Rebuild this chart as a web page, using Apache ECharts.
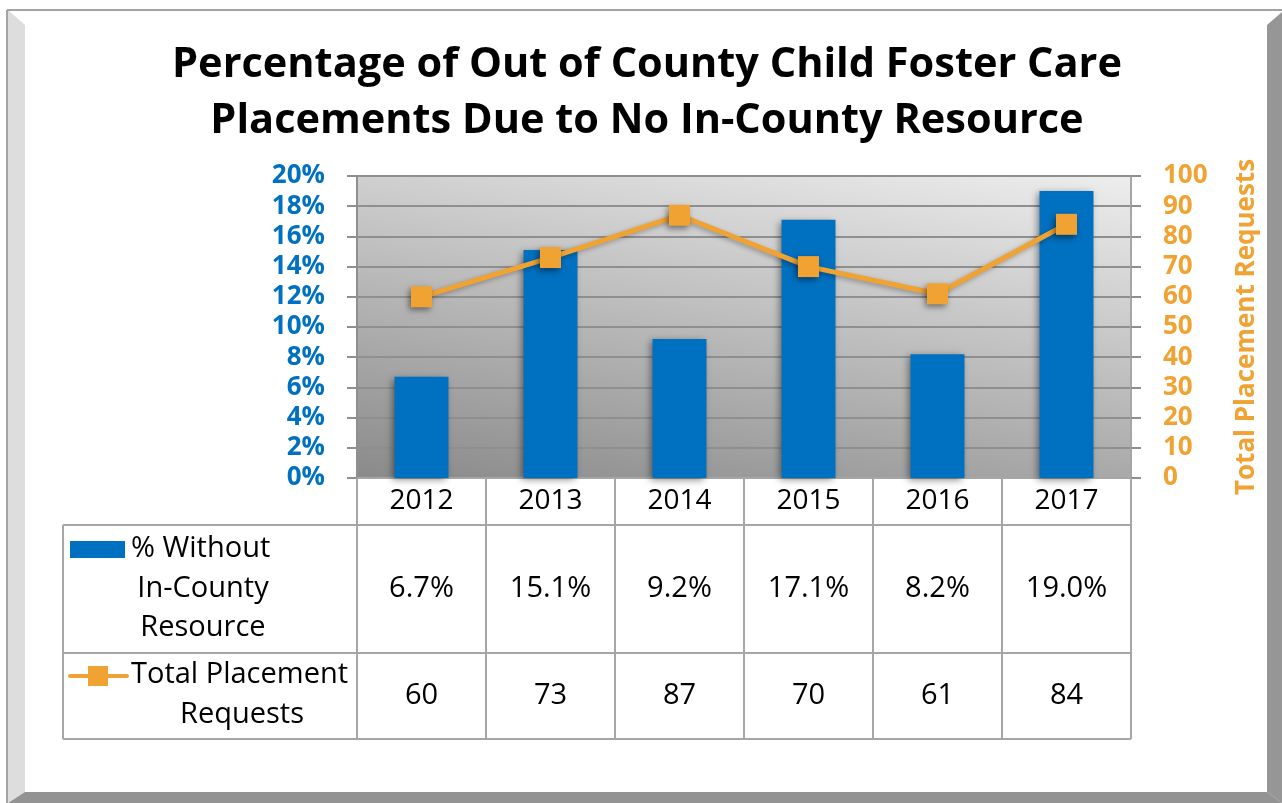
<!DOCTYPE html>
<html>
<head>
<meta charset="utf-8">
<title>Out of County Child Foster Care Placements</title>
<script src="https://cdn.jsdelivr.net/npm/echarts@6/dist/echarts.min.js"></script>
<style>
  html, body { margin: 0; padding: 0; background: #ffffff; }
  #chart { width: 1282px; height: 803px; }
</style>
</head>
<body>
<div id="chart"></div>
<script>
// Placement years shown along the category axis and in the data table
const years = ['2012', '2013', '2014', '2015', '2016', '2017'];
// Share of placements made out of county because no in-county resource existed (%)
const pctWithout = [6.7, 15.1, 9.2, 17.1, 8.2, 19.0];
// Total placement requests per year
const totalRequests = [60, 73, 87, 70, 61, 84];

const barName = '% Without In-County Resource';
const lineName = 'Total Placement Requests';
const titleLines = ['Percentage of Out of County Child Foster Care', 'Placements Due to No In-County Resource'];

const FONT = '"Open Sans", Lato, sans-serif';
const BLUE = '#0070C0';
const ORANGE = '#F0A232';
const GRID_LINE = '#8f8f8f';
const TABLE_LINE = '#a6a6a6';
const TABLE_FONT_SIZE = 29;

const chart = echarts.init(document.getElementById('chart'), null, { renderer: 'canvas' });

const gridBox = { left: 357, top: 176, right: 1131, bottom: 478 };

chart.setOption({
  backgroundColor: '#ffffff',
  animation: false,
  title: {
    text: titleLines.join('\n'),
    left: 642,
    top: 32,
    textAlign: 'center',
    textStyle: { fontFamily: FONT, fontWeight: 'bold', fontSize: 41.5, lineHeight: 56, color: '#000000' }
  },
  grid: {
    left: gridBox.left,
    top: gridBox.top,
    right: 1282 - gridBox.right,
    bottom: 803 - gridBox.bottom,
    show: true,
    borderWidth: 0,
    backgroundColor: {
      type: 'linear',
      global: true,
      x: gridBox.left, y: gridBox.bottom,
      x2: gridBox.left + 74, y2: gridBox.bottom - 425,
      colorStops: [{ offset: 0, color: '#8a8a8a' }, { offset: 1, color: '#eeeeee' }]
    }
  },
  xAxis: {
    type: 'category',
    data: years,
    boundaryGap: true,
    axisLine: { show: true, lineStyle: { color: TABLE_LINE, width: 2 } },
    axisTick: { show: true, inside: false, length: 47, lineStyle: { color: TABLE_LINE, width: 2 } },
    axisLabel: { fontFamily: FONT, fontSize: 28, color: '#000000', margin: 23, verticalAlign: 'middle' },
    splitLine: { show: false }
  },
  yAxis: [
    {
      type: 'value',
      min: 0, max: 20, interval: 2,
      axisLine: { show: true, lineStyle: { color: GRID_LINE, width: 2 } },
      axisTick: { show: true, length: 10, lineStyle: { color: GRID_LINE, width: 2 } },
      axisLabel: { formatter: '{value}%', fontFamily: FONT, fontWeight: 'bold', fontSize: 26, color: BLUE, margin: 32 },
      splitLine: { show: true, lineStyle: { color: GRID_LINE, width: 2 } }
    },
    {
      type: 'value',
      min: 0, max: 100, interval: 10,
      name: lineName,
      nameLocation: 'middle',
      nameRotate: 90,
      nameGap: 103,
      nameTextStyle: { fontFamily: FONT, fontWeight: 'bold', fontSize: 26, color: ORANGE },
      axisLine: { show: true, lineStyle: { color: TABLE_LINE, width: 2 } },
      axisTick: { show: true, length: 10, lineStyle: { color: GRID_LINE, width: 2 } },
      axisLabel: { fontFamily: FONT, fontWeight: 'bold', fontSize: 26, color: ORANGE, margin: 32 },
      splitLine: { show: false }
    }
  ],
  series: [
    {
      name: barName,
      type: 'bar',
      yAxisIndex: 0,
      data: pctWithout,
      barWidth: 54,
      itemStyle: {
        color: BLUE,
        shadowColor: 'rgba(0,0,0,0.45)', shadowBlur: 7, shadowOffsetX: -3, shadowOffsetY: 2
      },
      z: 2
    },
    {
      name: lineName,
      type: 'line',
      yAxisIndex: 1,
      data: totalRequests,
      symbol: 'rect',
      symbolSize: 21,
      lineStyle: { color: ORANGE, width: 5, shadowColor: 'rgba(0,0,0,0.3)', shadowBlur: 5, shadowOffsetX: -2, shadowOffsetY: 2 },
      itemStyle: { color: ORANGE, shadowColor: 'rgba(0,0,0,0.45)', shadowBlur: 6, shadowOffsetX: -2, shadowOffsetY: 3 },
      z: 3
    }
  ]
});

// Data table under the plot: columns follow the category axis positions
function buildTable() {
  const c0 = chart.convertToPixel({ xAxisIndex: 0 }, 0);
  const c1 = chart.convertToPixel({ xAxisIndex: 0 }, 1);
  const band = c1 - c0;
  const firstEdge = c0 - band / 2;
  const lastEdge = firstEdge + band * years.length;
  const tableLeft = 63;
  const rowTop = 525, rowMid = 653, rowBottom = 739;
  const els = [];
  const line = (x1, y1, x2, y2) => ({
    type: 'line', silent: true, z: 10,
    shape: { x1, y1, x2, y2 },
    style: { stroke: TABLE_LINE, lineWidth: 2 }
  });
  const text = (str, x, y, align) => ({
    type: 'text', silent: true, z: 11, x, y,
    style: { text: str, fill: '#000000', font: TABLE_FONT_SIZE + 'px ' + FONT, align: align || 'center', verticalAlign: 'middle' }
  });

  [rowTop, rowMid, rowBottom].forEach(y => els.push(line(tableLeft, y, lastEdge, y)));
  els.push(line(tableLeft, rowTop, tableLeft, rowBottom));
  for (let i = 0; i <= years.length; i++) {
    const x = firstEdge + band * i;
    els.push(line(x, rowTop, x, rowBottom));
  }

  // Row headers with series keys
  els.push({ type: 'rect', silent: true, z: 11, shape: { x: 70, y: 541, width: 55, height: 17 }, style: { fill: BLUE } });
  els.push(text('% Without', 131, 549, 'left'));
  els.push(text('In-County', 203, 589));
  els.push(text('Resource', 203, 628));

  els.push({ type: 'line', silent: true, z: 11, shape: { x1: 70, y1: 676, x2: 127, y2: 676 }, style: { stroke: ORANGE, lineWidth: 4, lineCap: 'round' } });
  els.push({ type: 'rect', silent: true, z: 12, shape: { x: 88, y: 666, width: 20, height: 20 }, style: { fill: ORANGE } });
  els.push(text('Total Placement', 131, 675, 'left'));
  els.push(text('Requests', 242, 715));

  // Value cells
  years.forEach((y, i) => {
    const cx = chart.convertToPixel({ xAxisIndex: 0 }, i);
    els.push(text(pctWithout[i].toFixed(1) + '%', cx, 589));
    els.push(text(String(totalRequests[i]), cx, 696));
  });

  // Bevelled outer frame
  els.push({ type: 'polygon', silent: true, z: 0, shape: { points: [[8, 10], [25, 25], [25, 792], [8, 803]] }, style: { fill: '#dddddd' } });
  els.push({ type: 'polygon', silent: true, z: 0, shape: { points: [[1267, 25], [1282, 12], [1282, 803], [1267, 792]] }, style: { fill: '#969696' } });
  els.push({ type: 'polygon', silent: true, z: 0, shape: { points: [[25, 792], [1267, 792], [1282, 803], [8, 803]] }, style: { fill: '#939393' } });
  els.push(line(7, 10, 1282, 10));
  els[els.length - 1].style.stroke = '#a3a3a3';
  els.push(line(7, 10, 7, 803));
  els[els.length - 1].style.stroke = '#a3a3a3';

  chart.setOption({ graphic: { elements: els } });
}
buildTable();
</script>
</body>
</html>
